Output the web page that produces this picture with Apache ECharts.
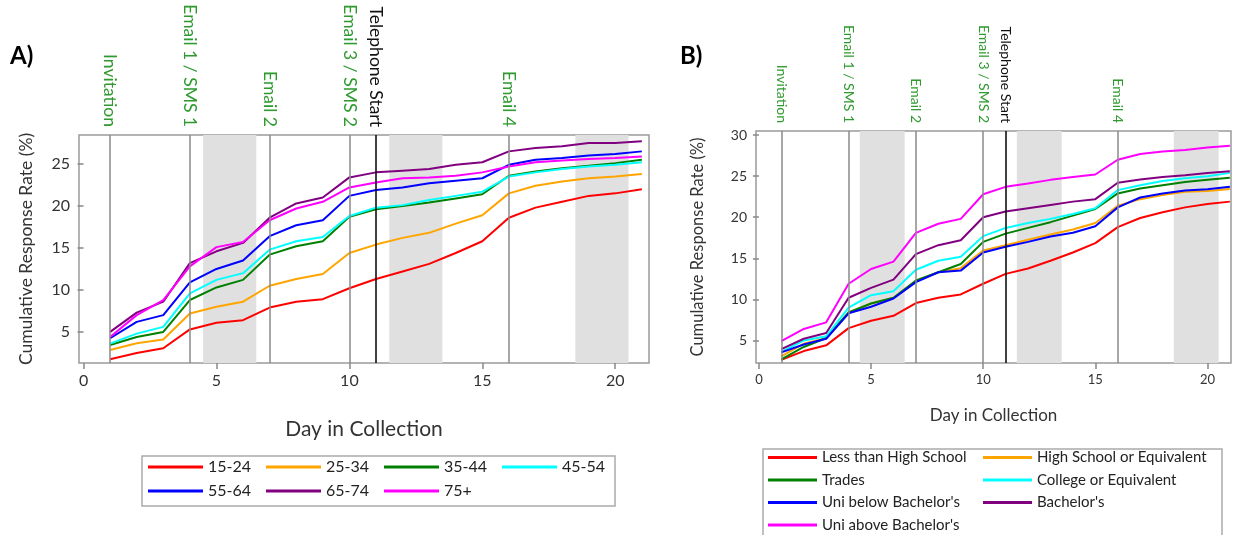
<!DOCTYPE html>
<html><head><meta charset="utf-8">
<script src="https://cdn.jsdelivr.net/npm/echarts@6/dist/echarts.min.js"></script>
<style>html,body{margin:0;padding:0;background:#fff}#c{width:1237px;height:535px}</style>
</head><body><div id="c"></div>
<script>
// ---------- data ----------
const days = [1,2,3,4,5,6,7,8,9,10,11,12,13,14,15,16,17,18,19,20,21];
const eventDays = [1,4,7,10,11,16];
const eventNames = ['Invitation','Email 1 / SMS 1','Email 2','Email 3 / SMS 2','Telephone Start','Email 4'];
const weekendStart = [4.5,11.5,18.5];
const weekendEnd = [6.5,13.5,20.5];
const xTicks = [0,5,10,15,20];
const yTicksA = [5,10,15,20,25];
const yTicksB = [5,10,15,20,25,30];

const ageNames = ['15-24','25-34','35-44','45-54','55-64','65-74','75+'];
const a15_24 = [1.75,2.5,3.05,5.3,6.1,6.4,7.9,8.6,8.9,10.2,11.3,12.2,13.1,14.4,15.8,18.6,19.8,20.5,21.2,21.5,22.0];
const a25_34 = [2.85,3.65,4.1,7.2,8.0,8.6,10.5,11.3,11.9,14.4,15.4,16.2,16.8,17.9,18.9,21.5,22.4,22.9,23.3,23.5,23.8];
const a35_44 = [3.45,4.4,5.0,8.8,10.3,11.2,14.2,15.2,15.8,18.7,19.6,20.0,20.4,20.9,21.4,23.6,24.1,24.5,24.8,25.1,25.5];
const a45_54 = [3.6,4.8,5.6,9.6,11.2,12.0,14.8,15.8,16.3,18.8,19.8,20.1,20.7,21.2,21.7,23.5,24.0,24.4,24.7,24.9,25.2];
const a55_64 = [4.25,6.2,7.0,10.9,12.5,13.5,16.4,17.7,18.3,21.2,21.9,22.2,22.7,23.0,23.3,24.9,25.5,25.7,26.0,26.2,26.5];
const a65_74 = [5.0,7.3,8.6,13.2,14.6,15.6,18.6,20.3,21.0,23.4,24.0,24.2,24.4,24.9,25.2,26.5,26.9,27.1,27.5,27.5,27.7];
const a75p   = [4.4,7.0,8.8,12.8,15.1,15.7,18.3,19.7,20.5,22.2,22.8,23.3,23.4,23.6,24.0,24.7,25.2,25.4,25.6,25.7,25.9];

const eduNames = ['Less than High School','High School or Equivalent','Trades','College or Equivalent',"Uni below Bachelor's","Bachelor's","Uni above Bachelor's"];
const eLessHS   = [2.65,3.7,4.4,6.5,7.4,8.0,9.55,10.2,10.6,11.9,13.1,13.75,14.7,15.7,16.85,18.8,19.9,20.6,21.2,21.6,21.9];
const eHS       = [3.05,4.6,5.3,8.4,9.5,10.2,12.2,13.3,13.8,15.95,16.6,17.25,17.9,18.5,19.3,21.4,22.2,22.7,23.1,23.2,23.45];
const eTrades   = [2.7,4.2,5.3,8.4,9.5,10.2,12.3,13.3,14.3,17.0,18.0,18.7,19.4,20.2,21.0,22.9,23.5,23.9,24.3,24.55,24.8];
const eCollege  = [3.6,5.0,5.5,9.0,10.5,11.0,13.6,14.7,15.2,17.7,18.7,19.3,19.8,20.4,21.1,23.3,23.9,24.4,24.75,25.0,25.4];
const eUniBelow = [3.55,4.5,5.2,8.3,9.1,10.1,12.1,13.3,13.5,15.7,16.4,17.0,17.65,18.1,18.9,21.2,22.4,22.9,23.25,23.4,23.7];
const eBachelor = [3.95,5.2,5.9,10.2,11.4,12.4,15.5,16.6,17.2,20.0,20.7,21.1,21.5,21.9,22.2,24.2,24.6,24.9,25.1,25.4,25.6];
const eUniAbove = [4.9,6.4,7.2,11.9,13.7,14.6,18.1,19.2,19.8,22.8,23.7,24.1,24.55,24.9,25.2,27.0,27.7,28.0,28.2,28.5,28.7];

const colors = ['#ff0000','#ffa500','#008000','#00ffff','#0000ff','#800080','#ff00ff'];
const ageData = [a15_24,a25_34,a35_44,a45_54,a55_64,a65_74,a75p];
const eduData = [eLessHS,eHS,eTrades,eCollege,eUniBelow,eBachelor,eUniAbove];

// ---------- build ----------
const FONT = 'Lato';
const GREEN = '#2f9a2f';
const pairs = arr => days.map((d,i)=>[d,arr[i]]);

function lineSeries(names, datas, xi, yi) {
  return names.map((n,i)=>({
    name:n, type:'line', xAxisIndex:xi, yAxisIndex:yi, data:pairs(datas[i]),
    symbol:'none', lineStyle:{width:2, color:colors[i]}, itemStyle:{color:colors[i]}, z:3
  }));
}
function markSeries(xi, yi) {
  return [{
    type:'line', xAxisIndex:xi, yAxisIndex:yi, data:[], silent:true, z:1,
    markArea:{silent:true, itemStyle:{color:'#e0e0e0'},
      data: weekendStart.map((s,i)=>[{xAxis:s},{xAxis:weekendEnd[i]}])}
  },{
    type:'line', xAxisIndex:xi, yAxisIndex:yi, data:[], silent:true, z:2,
    markLine:{silent:true, symbol:'none', label:{show:false}, animation:false,
      data: eventDays.map(d=>({xAxis:d, lineStyle:{type:'solid', width:1.5, color: d===11 ? '#000' : '#8a8a8a'}}))}
  }];
}
function bottomX(gi, max, fs) {
  return {type:'value', gridIndex:gi, min: gi===0?-0.17:-0.13, max:max,
    axisLine:{show:false}, splitLine:{show:false},
    axisTick:{show:true, customValues:xTicks, length:6, lineStyle:{color:'#888', width:1.5}},
    axisLabel:{customValues:xTicks, fontSize:fs, color:'#333', fontFamily:FONT, margin:10},
    name:'Day in Collection', nameLocation:'middle', nameGap: gi===0?56:44,
    nameTextStyle:{fontSize: gi===0?21:17, color:'#333', fontFamily:FONT}};
}
function topX(gi, max, fs) {
  return {type:'value', gridIndex:gi, position:'top', min: gi===0?-0.17:-0.13, max:max,
    axisLine:{show:false}, splitLine:{show:false}, axisTick:{show:false},
    axisLabel:{customValues:eventDays, rotate:90, fontSize:fs, fontFamily:FONT, margin:8,
      formatter: v => eventNames[eventDays.indexOf(v)],
      color: v => (Number(v)===11 ? '#111' : GREEN)}};
}
function yAx(gi, min, max, ticks, fs, gap, nfs) {
  return {type:'value', gridIndex:gi, min:min, max:max,
    axisLine:{show:false}, splitLine:{show:false},
    axisTick:{show:true, customValues:ticks, length:6, lineStyle:{color:'#888', width:1.5}},
    axisLabel:{customValues:ticks, fontSize:fs, color:'#333', fontFamily:FONT, margin:9},
    name:'Cumulative Response Rate (%)', nameLocation:'middle', nameGap:gap,
    nameTextStyle:{fontSize:nfs, color:'#333', fontFamily:FONT}};
}
function legendCols(names, cols, lefts, top, gap, iw, fs) {
  return cols.map((idx,c)=>({
    orient:'vertical', left:lefts[c], top:top, padding:0, itemGap:gap,
    itemWidth:iw, itemHeight:3, icon:'rect', selectedMode:false,
    textStyle:{fontSize:fs, color:'#222', fontFamily:FONT},
    data: idx.map(i=>names[i])
  }));
}

const option = {
  animation:false,
  backgroundColor:'#fff',
  textStyle:{fontFamily:FONT},
  grid:[
    {left:79, right:588, top:135, bottom:172, show:true, borderColor:'#9a9a9a', borderWidth:1.5, backgroundColor:'transparent'},
    {left:756, right:6, top:131, bottom:172, show:true, borderColor:'#9a9a9a', borderWidth:1.5, backgroundColor:'transparent'}
  ],
  xAxis:[bottomX(0,21.27,16), bottomX(1,21.05,13), topX(0,21.27,17.5), topX(1,21.05,14)],
  yAxis:[yAx(0,1.3,28.45,yTicksA,16,44,17.5), yAx(1,2.25,30.5,yTicksB,14,50,16.5)],
  legend:[
    ...legendCols(ageNames, [[0,4],[1,5],[2,6],[3]], [148,266,384,502], 459, 8, 55, 16),
    ...legendCols(eduNames, [[0,2,4,6],[1,3,5]], [768,983], 450, 7.5, 49, 15)
  ],
  graphic:[
    {type:'text', left:10, top:44, style:{text:'A)', font:'bold 24px '+FONT, fill:'#000'}},
    {type:'text', left:680, top:44, style:{text:'B)', font:'bold 24px '+FONT, fill:'#000'}},
    {type:'rect', shape:{x:142, y:456, width:473, height:50}, style:{fill:'none', stroke:'#aaa', lineWidth:1.5}, z:-1},
    {type:'rect', shape:{x:763, y:449, width:459, height:100}, style:{fill:'none', stroke:'#aaa', lineWidth:1.5}, z:-1}
  ],
  series:[
    ...markSeries(0,0), ...lineSeries(ageNames, ageData, 0, 0),
    ...markSeries(1,1), ...lineSeries(eduNames, eduData, 1, 1)
  ]
};
echarts.init(document.getElementById('c')).setOption(option);
</script></body></html>
